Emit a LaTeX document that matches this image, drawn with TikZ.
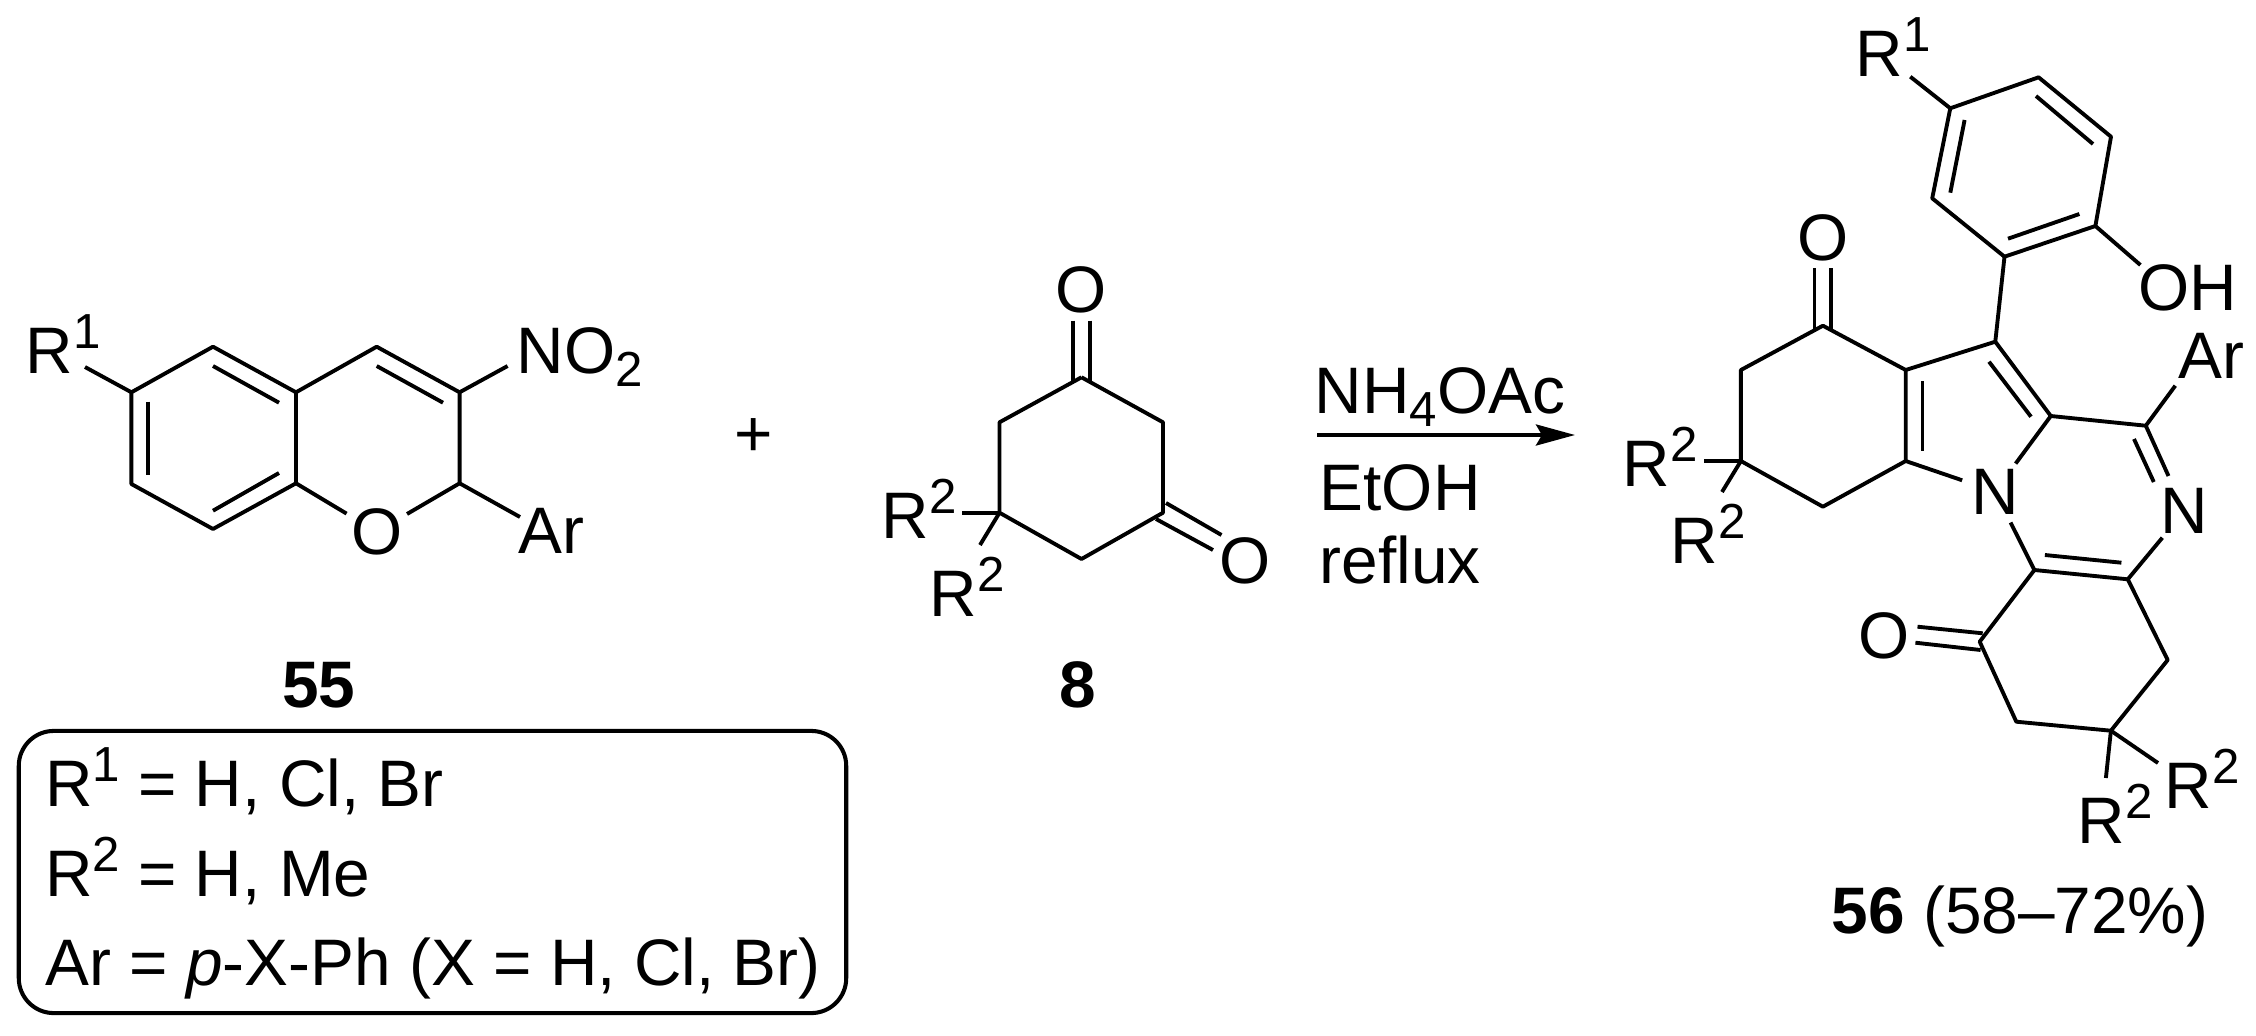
\documentclass[tikz,border=0pt]{standalone}
\usepackage{fontspec}
\setmainfont{Liberation Sans}
\usetikzlibrary{arrows.meta}
\newcommand{\supn}[1]{\raisebox{.38em}{\fontsize{14}{14}\selectfont #1}}
\newcommand{\subn}[1]{\raisebox{-.2em}{\fontsize{14}{14}\selectfont #1}}
\tikzset{
  bond/.style={black, line width=1.1pt, line join=round},
  lab/.style={anchor=base west, inner sep=0pt, font=\fontsize{18.7}{22}\selectfont},
  atom/.style={circle, inner sep=0pt, minimum size=.68cm, font=\fontsize{18.7}{22}\selectfont}
}

\begin{document}
\begin{tikzpicture}[x=.01cm, y=-.01cm]
        \useasboundingbox (0,0) rectangle (2256,1036);

        % compound 55
        \coordinate (a1) at (131.4,392.3);
        \coordinate (a2) at (213,346.7);
        \coordinate (a3) at (296,392.3);
        \coordinate (a4) at (296,483.3);
        \coordinate (a5) at (213,529);
        \coordinate (a6) at (131.4,484);
        \coordinate (a7) at (376.7,346.7);
        \coordinate (a8) at (459.6,392.3);
        \coordinate (a9) at (459.6,483.3);
        \node[atom] (aO) at (376.7,531.7) {O};
        \node[lab] (aR) at (25,373) {R\supn{1}};
        \node[lab] (aN) at (516,373) {NO\subn{2}};
        \node[lab] (aAr) at (518,553.5) {Ar};
        \node[lab, anchor=base, font=\fontsize{18.7}{22}\selectfont\bfseries] (alabel) at (319,707) {55};
        \coordinate (aRe) at (85,367);
        \coordinate (aNe) at (507.6,366);
        \coordinate (aAre) at (520,517);

        \draw[bond] (aRe) -- (a1) -- (a2) -- (a3) -- (a4) -- (a5) -- (a6) -- (a1);
        \draw[bond] (a3) -- (a7) -- (a8) -- (a9) -- (aO) -- (a4);
        \draw[bond] (a8) -- (aNe);
        \draw[bond] (a9) -- (aAre);

        \coordinate (ai1) at (213,366);
        \coordinate (ai2) at (279,402.7);
        \coordinate (ai3) at (148,401.7);
        \coordinate (ai4) at (148,475);
        \coordinate (ai5) at (213,510.7);
        \coordinate (ai6) at (279,473);
        \coordinate (ai7) at (376.7,366);
        \coordinate (ai8) at (443,402.7);
        \draw[bond] (ai1) -- (ai2);
        \draw[bond] (ai3) -- (ai4);
        \draw[bond] (ai5) -- (ai6);
        \draw[bond] (ai7) -- (ai8);

        % plus sign
        \node[lab, anchor=base] (plus) at (753.5,456) {+};

        % compound 8
        \coordinate (b1) at (1081.5,377.3);
        \coordinate (b2) at (1163,422.3);
        \coordinate (b3) at (1163,512.7);
        \coordinate (b4) at (1081.5,559);
        \coordinate (b5) at (999.5,512.7);
        \coordinate (b6) at (999.5,422.3);
        \node[atom] (bO1) at (1081.5,290) {O};
        \node[atom] (bO2) at (1245,560.7) {O};
        \node[lab] (bRa) at (881,538) {R\supn{2}};
        \node[lab] (bRb) at (929,616) {R\supn{2}};
        \node[lab, anchor=base, font=\fontsize{18.7}{22}\selectfont\bfseries] (blabel) at (1077.6,707) {8};
        \coordinate (bRae) at (962,512.7);
        \coordinate (bRbe) at (980,545);

        \draw[bond] (b1) -- (b2) -- (b3) -- (b4) -- (b5) -- (b6) -- (b1);
        \draw[bond] (b5) -- (bRae);
        \draw[bond] (b5) -- (bRbe);

        \coordinate (bd1) at (1072.7,320.7);
        \coordinate (bd2) at (1072.7,382);
        \coordinate (bd3) at (1090,320.7);
        \coordinate (bd4) at (1090,382);
        \coordinate (bd5) at (1166,503);
        \coordinate (bd6) at (1221.5,535);
        \coordinate (bd7) at (1156,519);
        \coordinate (bd8) at (1213,550);
        \draw[bond] (bd1) -- (bd2);
        \draw[bond] (bd3) -- (bd4);
        \draw[bond] (bd5) -- (bd6);
        \draw[bond] (bd7) -- (bd8);

        % reaction arrow
        \coordinate (arrowa) at (1317,435);
        \coordinate (arrowb) at (1575,435);
        \draw[bond, -{Stealth[length=.39cm, width=.21cm, inset=.06cm]}] (arrowa) -- (arrowb);
        \node[lab] (reagent) at (1314,413) {NH\subn{4}OAc};
        \node[lab] (solvent) at (1319,510) {EtOH};
        \node[lab] (reflux) at (1319,583) {reflux};

        % compound 56
        \coordinate (c1) at (1950.3,108.3);
        \coordinate (c2) at (2038.6,77.3);
        \coordinate (c3) at (2111,136.7);
        \coordinate (c4) at (2095.4,226);
        \coordinate (c5) at (2004.5,256.7);
        \coordinate (c6) at (1932.2,198.3);
        \coordinate (c7) at (1995.3,341.7);
        \coordinate (c8) at (2050.8,416);
        \coordinate (c9) at (1905.7,370);
        \coordinate (c10) at (1905.7,461);
        \coordinate (c11) at (1822.9,325.7);
        \coordinate (c12) at (1740.9,370);
        \coordinate (c13) at (1740.9,461);
        \coordinate (c14) at (1822.9,506.7);
        \coordinate (c15) at (2145.8,425.7);
        \coordinate (c16) at (2034.4,570);
        \coordinate (c17) at (2127.8,579.3);
        \coordinate (c18) at (1979.7,641.7);
        \coordinate (c19) at (2016.3,721.7);
        \coordinate (c20) at (2110.9,730.7);
        \coordinate (c21) at (2167.7,660);
        \node[atom] (cN1) at (1995,491.5) {N};
        \node[atom] (cN2) at (2184.5,511) {N};
        \node[atom] (cO1) at (1822.9,237.7) {O};
        \node[atom] (cO2) at (1884,635.5) {O};
        \node[lab] (cR1) at (1855,76) {R\supn{1}};
        \node[lab] (cOH) at (2138,310) {OH};
        \node[lab] (cAr) at (2178,378) {Ar};
        \node[lab] (cRa) at (1622,486) {R\supn{2}};
        \node[lab] (cRb) at (1670,563) {R\supn{2}};
        \node[lab] (cRc) at (2164,808) {R\supn{2}};
        \node[lab] (cRd) at (2077,843) {R\supn{2}};
        \node[lab] (clabel) at (1831,933) {\textbf{56} (58--72\%)};
        \coordinate (cR1e) at (1910.3,76.7);
        \coordinate (cOHe) at (2140.4,265);
        \coordinate (cAre) at (2175.3,385.7);
        \coordinate (cRae) at (1703.9,461);
        \coordinate (cRbe) at (1722,492);
        \coordinate (cRce) at (2158,763);
        \coordinate (cRde) at (2105.9,778);
        \coordinate (cN2e) at (2168.5,476);

        \draw[bond] (cR1e) -- (c1) -- (c2) -- (c3) -- (c4) -- (c5) -- (c6) -- (c1);
        \draw[bond] (c4) -- (cOHe);
        \draw[bond] (c5) -- (c7) -- (c8) -- (cN1) -- (c10) -- (c9) -- (c7);
        \draw[bond] (c9) -- (c11) -- (c12) -- (c13) -- (c14) -- (c10);
        \draw[bond] (c13) -- (cRae);
        \draw[bond] (c13) -- (cRbe);
        \draw[bond] (c8) -- (c15) -- (cAre);
        \draw[bond] (c15) -- (cN2e);
        \draw[bond] (cN1) -- (c16) -- (c17) -- (cN2);
        \draw[bond] (c16) -- (c18) -- (c19) -- (c20) -- (c21) -- (c17);
        \draw[bond] (c20) -- (cRce);
        \draw[bond] (c20) -- (cRde);

        \coordinate (cd1) at (2036,96);
        \coordinate (cd2) at (2093,144);
        \coordinate (cd3) at (1964.6,120);
        \coordinate (cd4) at (1950.3,192.7);
        \coordinate (cd5) at (2079.4,214);
        \coordinate (cd6) at (2008,238.7);
        \coordinate (cd7) at (1989,361.7);
        \coordinate (cd8) at (2031,416.7);
        \coordinate (cd9) at (1922.5,381);
        \coordinate (cd10) at (1922.5,450.7);
        \coordinate (cd11) at (2134,439);
        \coordinate (cd12) at (2153.8,482);
        \coordinate (cd13) at (2044.9,555);
        \coordinate (cd14) at (2121.4,562.7);
        \coordinate (cd15) at (1814.5,268.3);
        \coordinate (cd16) at (1814.5,331);
        \coordinate (cd17) at (1831.3,268.3);
        \coordinate (cd18) at (1831.3,331);
        \coordinate (cd19) at (1917.5,626.7);
        \coordinate (cd20) at (1982.7,633.3);
        \coordinate (cd21) at (1915.4,642.7);
        \coordinate (cd22) at (1980.6,650);
        \foreach \i/\j in {1/2,3/4,5/6,7/8,9/10,11/12,13/14,15/16,17/18,19/20,21/22}
          \draw[bond] (cd\i) -- (cd\j);

        % box with the substituents
        \node[draw, line width=1.15pt, rounded corners=.35cm, minimum width=8.27cm, minimum height=2.82cm, inner sep=0pt] (subbox) at (432.5,872) {};
        \node[lab] (boxa) at (44.5,806.7) {R\supn{1} = H, Cl, Br};
        \node[lab] (boxb) at (44.5,896) {R\supn{2} = H, Me};
        \node[lab] (boxc) at (45,985.3) {Ar = \textit{p}-X-Ph (X = H, Cl, Br)};

\end{tikzpicture}
\end{document}
